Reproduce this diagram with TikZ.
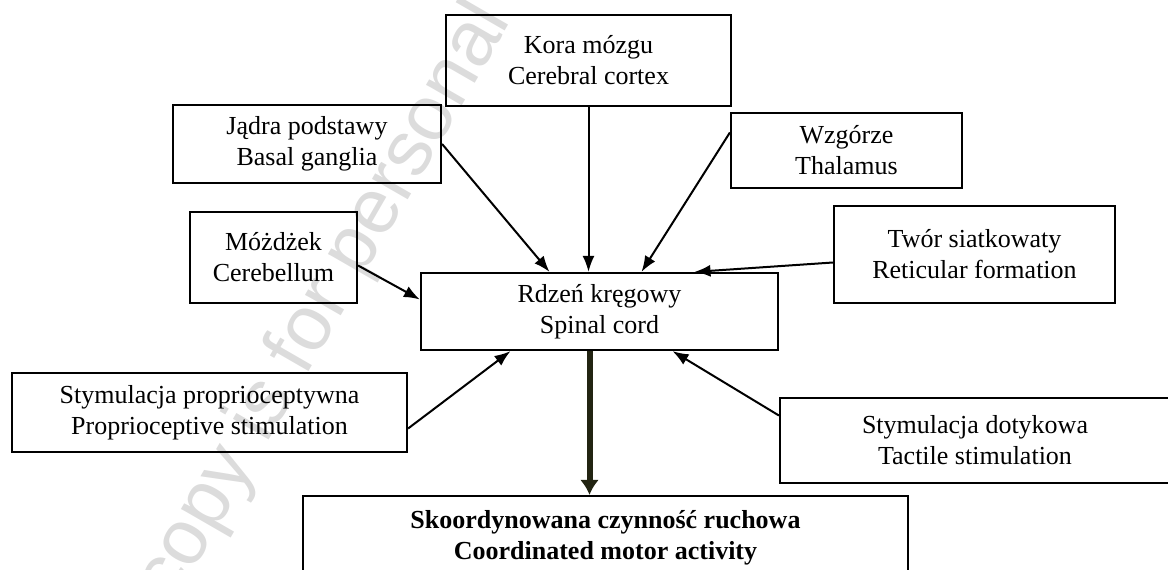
\documentclass[tikz,border=0pt]{standalone}
\usepackage{fontspec}
\setmainfont{Liberation Serif}
\newfontfamily\wmfont{Liberation Sans}
\usetikzlibrary{arrows.meta}
\definecolor{cordarrow}{RGB}{34,36,18}
\definecolor{wmgray}{RGB}{220,220,220}

\begin{document}
\begin{tikzpicture}[x=1pt,y=-1pt,>={Latex[length=16pt,width=12pt]},
		box/.style={draw,line width=2.2pt,align=center,inner sep=0pt,font=\fontsize{26}{31}\selectfont},
		feed/.style={->,line width=2pt},
		output/.style={->,line width=6pt,draw=cordarrow,>={Latex[length=15pt,width=19pt]}}]
		% the page frame, the last box runs past it
		\clip (0,0) rectangle (1168,570);

		% watermark behind everything
		\node[rotate=60,text=wmgray,font=\wmfont\fontsize{78}{80}\selectfont] (wm) at (325,303) {copy is for personal};

		% the spinal cord in the middle
		\node[box,minimum width=357pt,minimum height=77pt] (rdzen) at (599.5,311.5) {Rdzeń kręgowy\\Spinal cord};

		% the inputs from above
		\node[box,minimum width=285pt,minimum height=91pt] (kora) at (588.5,60.5) {Kora mózgu\\Cerebral cortex};
		\node[box,minimum width=268pt,minimum height=78pt] (jadra) at (307,144) {Jądra podstawy\\Basal ganglia};
		\node[box,minimum width=231pt,minimum height=75pt] (wzgorze) at (846.5,150.5) {Wzgórze\\Thalamus};
		\node[box,minimum width=167pt,minimum height=91pt] (mozdzek) at (273.5,257.5) {Móżdżek\\Cerebellum};
		\node[box,minimum width=281pt,minimum height=97pt] (twor) at (974.5,254.5) {Twór siatkowaty\\Reticular formation};

		% the inputs from below
		\node[box,minimum width=395pt,minimum height=79pt] (proprio) at (209.5,412.5) {Stymulacja proprioceptywna\\Proprioceptive stimulation};
		\node[box,minimum width=390pt,minimum height=85pt] (dotyk) at (975,440.5) {Stymulacja dotykowa\\Tactile stimulation};

		% the result
		\node[box,minimum width=605pt,minimum height=84pt] (ruch) at (605.5,538) {\bfseries Skoordynowana czynność ruchowa\\\bfseries Coordinated motor activity};

		% arrows into the spinal cord
		\draw[feed] (kora.south) -- (kora.south |- rdzen.north);
		\draw[feed] (jadra.east) -- ([xshift=-50pt]rdzen.north);
		\draw[feed] ([yshift=18pt]wzgorze.west) -- ([xshift=42pt]rdzen.north);
		\draw[feed] ([yshift=-8pt]mozdzek.east) -- ([yshift=12pt]rdzen.west);
		\draw[feed] ([yshift=-8pt]twor.west) -- ([xshift=95pt]rdzen.north);
		\draw[feed] ([yshift=-16pt]proprio.east) -- ([xshift=-89pt]rdzen.south);
		\draw[feed] ([yshift=25pt]dotyk.west) -- ([xshift=73pt]rdzen.south);

		% the thick arrow down to the motor activity
		\coordinate (out) at ([xshift=-10pt]rdzen.south);
		\draw[output] (out) -- (out |- ruch.north);
	\end{tikzpicture}
\end{document}
